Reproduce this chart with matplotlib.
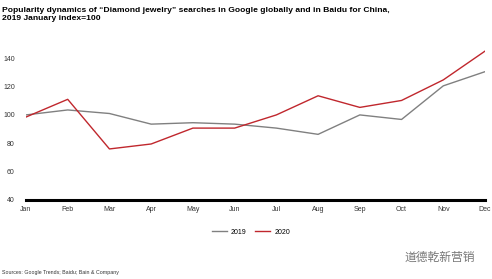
import matplotlib.pyplot as plt

plt.rcParams['font.family'] = ['Liberation Sans', 'DejaVu Sans']

months = ['Jan', 'Feb', 'Mar', 'Apr', 'May', 'Jun', 'Jul', 'Aug', 'Sep', 'Oct', 'Nov', 'Dec']
y2019 = [100, 103.5, 101, 93.5, 94.5, 93.5, 90.7, 86.3, 100, 96.8, 120.5, 130.5]
y2020 = [98.5, 111, 76, 79.5, 90.7, 90.7, 100, 113.5, 105.3, 110.2, 124.7, 145]
yticks = [40, 60, 80, 100, 120, 140]

fig = plt.figure(figsize=(4.92, 2.79), dpi=100)
ax = fig.add_axes([0.0528, 0.2832, 0.9330, 0.559])

x = range(len(months))
ax.plot(x, y2019, color='#808080', lw=1.0, label='2019')
ax.plot(x, y2020, color='#c0272d', lw=1.0, label='2020')

ax.set_xlim(0, 11)
ax.set_ylim(40, 150)
ax.set_xticks(list(x))
ax.set_xticklabels(months)
ax.set_yticks(yticks)
ax.tick_params(axis='both', length=0, labelsize=5, colors='#333333')
ax.tick_params(axis='x', pad=4)
ax.tick_params(axis='y', pad=8)
for s in ['top', 'right', 'left']:
    ax.spines[s].set_visible(False)
ax.spines['bottom'].set_linewidth(2.2)
ax.spines['bottom'].set_color('black')

fig.legend(loc='center', bbox_to_anchor=(0.51, 0.168), ncol=2, frameon=False,
           fontsize=5, handlelength=2.2, columnspacing=1.2, handletextpad=0.6)

fig.text(0.004, 0.975, 'Popularity dynamics of \u201cDiamond jewelry\u201d searches in Google globally and in Baidu for China,\n2019 January index=100',
         fontsize=6.1, fontweight='bold', va='top', ha='left', linespacing=1.15)
fig.text(0.004, 0.025, 'Sources: Google Trends; Baidu; Bain & Company', fontsize=3.8, color='#333333', va='center')
fig.text(0.965, 0.078, '道德乾新营销', fontsize=8.5, color='#777777', ha='right', va='center',
         family=['Noto Sans CJK SC', 'DejaVu Sans'])

fig.savefig('out.png', dpi=100)
